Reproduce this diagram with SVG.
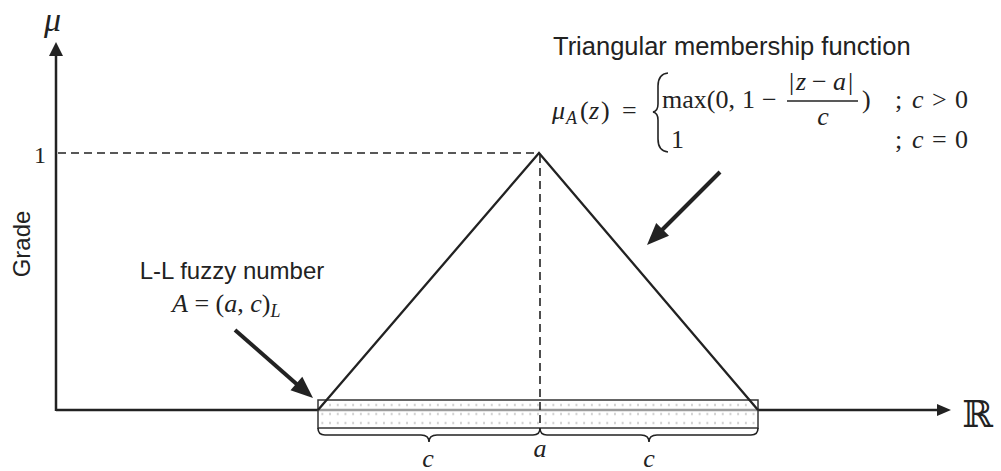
<svg xmlns="http://www.w3.org/2000/svg" width="1001" height="471" viewBox="0 0 1001 471">
<style>
.ln{stroke:#222;fill:none}
.lbl{font-family:"Liberation Sans",Arial,sans-serif;font-size:24px;fill:#222}
.m{font-family:"Liberation Serif","Times New Roman",serif;font-size:26px;fill:#222}
.i{font-style:italic}
.dash{stroke:#222;stroke-width:1.6;stroke-dasharray:8 5;fill:none}
.head{fill:#222;stroke:none}
</style>
<defs>
<pattern id="dots" patternUnits="userSpaceOnUse" x="326.2" y="400.5" width="7.7" height="9">
<circle cx="3.85" cy="4.5" r="0.9" fill="#b0b0b0"/>
</pattern>
</defs>
<rect width="1001" height="471" fill="#ffffff"/>

<g id="axes">
<line class="ln" x1="56" y1="410" x2="939" y2="410" stroke-width="2.5"/>
<polygon class="head" points="951,410 937,404 937,416"/>
<line class="ln" x1="56" y1="411" x2="56" y2="54" stroke-width="2.5"/>
<polygon class="head" points="56,42 49,56 63,56"/>
<text x="44" y="31" class="m i" style="font-size:34px">μ</text>
<text x="962" y="427" style="font-family:'DejaVu Serif','DejaVu Sans',serif;font-size:37px;fill:#222">ℝ</text>
<text x="46" y="163" class="m" text-anchor="end" style="font-size:24px">1</text>
<text transform="translate(30,244) rotate(-90)" class="lbl" text-anchor="middle">Grade</text>
</g>

<g id="interval">
<rect x="318" y="400" width="440" height="28" fill="#ffffff" fill-opacity="0.55"/>
<rect x="318" y="400" width="440" height="28" fill="url(#dots)" stroke="#333" stroke-width="1.5"/>
</g>

<g id="guides">
<line class="dash" x1="58" y1="153" x2="538" y2="153"/>
<line class="dash" x1="540" y1="155" x2="540" y2="427"/>
</g>

<g id="triangle">
<polyline class="ln" stroke-width="2.3" stroke-linejoin="miter" points="318,410 539,153 758,410"/>
</g>

<g id="braces">
<path class="ln" stroke-width="1.6" d="M318,428 Q318,435 325,435 L421,435 Q429,435 429,442 Q429,435 437,435 L533,435 Q540,435 540,428"/>
<path class="ln" stroke-width="1.6" d="M540,428 Q540,435 547,435 L641,435 Q649,435 649,442 Q649,435 657,435 L751,435 Q758,435 758,428"/>
<text x="428" y="467" class="m i" text-anchor="middle">c</text>
<text x="540" y="457" class="m i" text-anchor="middle">a</text>
<text x="649" y="467" class="m i" text-anchor="middle">c</text>
</g>

<g id="ll-label">
<text x="232" y="279" class="lbl" text-anchor="middle">L-L fuzzy number</text>
<text x="172" y="312" class="m"><tspan class="i">A</tspan> = (<tspan class="i">a</tspan>, <tspan class="i">c</tspan>)<tspan class="i" style="font-size:18px" dy="5">L</tspan></text>
</g>

<g id="membership-label">
<text x="553" y="55" class="lbl" style="font-size:25.5px">Triangular membership function</text>
<text x="552" y="119" class="m i">μ</text>
<text x="566" y="124" class="m i" style="font-size:18px">A</text>
<text x="580" y="119" class="m">(</text>
<text x="589" y="119" class="m i">z</text>
<text x="601" y="119" class="m">)</text>
<text x="622" y="119" class="m">=</text>
<path class="ln" stroke-width="1.6" d="M668,73 Q658,74 658,86 L658,104 Q658,111 653,112 Q658,113 658,120 L658,139 Q658,151 668,152"/>
<text x="662" y="108" class="m">max(0,</text>
<text x="742" y="108" class="m">1</text>
<text x="762" y="108" class="m">−</text>
<text x="789" y="90" class="m">|</text>
<text x="796" y="90" class="m i">z</text>
<text x="812" y="90" class="m">−</text>
<text x="833" y="90" class="m i">a</text>
<text x="848" y="90" class="m">|</text>
<line class="ln" x1="787" y1="101" x2="858" y2="101" stroke-width="1.6"/>
<text x="823" y="125" class="m i" text-anchor="middle">c</text>
<text x="862" y="108" class="m">)</text>
<text x="895" y="108" class="m">;</text>
<text x="912" y="108" class="m i">c</text>
<text x="932" y="108" class="m">&gt;</text>
<text x="955" y="108" class="m">0</text>
<text x="671" y="148" class="m">1</text>
<text x="895" y="148" class="m">;</text>
<text x="912" y="148" class="m i">c</text>
<text x="932" y="148" class="m">=</text>
<text x="955" y="148" class="m">0</text>
</g>

<g id="connectors">
<line class="ln" x1="235" y1="330" x2="300" y2="387" stroke-width="4"/>
<polygon class="head" points="313,398 290.5,390.3 302.3,376.7"/>
<line class="ln" x1="720" y1="172" x2="660" y2="232" stroke-width="4"/>
<polygon class="head" points="647,245 669,235.8 656.2,223"/>
</g>
</svg>
